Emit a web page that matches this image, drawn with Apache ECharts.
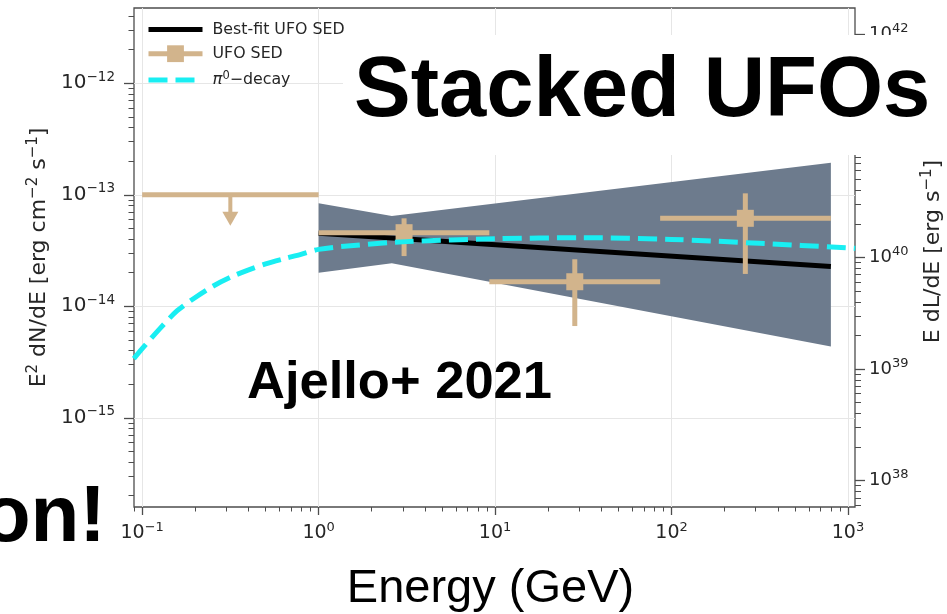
<!DOCTYPE html>
<html>
<head>
<meta charset="utf-8">
<script src="https://cdn.jsdelivr.net/npm/echarts@6/dist/echarts.min.js"></script>
<style>
  html, body { margin: 0; padding: 0; background: #ffffff; }
  #chart { width: 947px; height: 614px; }
</style>
</head>
<body>
<div id="chart"></div>
<script>
// ---- Stacked UFO spectral energy distribution (energy in GeV, flux in erg cm^-2 s^-1) ----

// Detected bins: centre, bin edges, flux and 1-sigma range
const ufoEnergy   = [3.05, 28.3, 262];
const ufoEnergyLo = [1.0, 9.28, 86.2];
const ufoEnergyHi = [9.28, 86.2, 800];
const ufoFlux     = [4.57e-14, 1.66e-14, 6.15e-14];
const ufoFluxLo   = [2.82e-14, 6.65e-15, 1.95e-14];
const ufoFluxHi   = [6.15e-14, 2.64e-14, 1.03e-13];

// Upper limit in the lowest bin
const ulEnergy   = [0.316];
const ulEnergyLo = [0.1];
const ulEnergyHi = [1.0];
const ulFlux     = [1.0e-13];

// Best-fit power law
const fitEnergy = [1, 800];
const fitFlux   = [4.52e-14, 2.27e-14];

// Uncertainty butterfly of the fit
const bandEnergy = [1, 2.6, 800];
const bandUpper  = [8.4e-14, 6.45e-14, 1.94e-13];
const bandLower  = [2.0e-14, 2.43e-14, 4.35e-15];

// Pion-decay model curve
const pionEnergy = [0.0897, 0.1, 0.126, 0.158, 0.2, 0.251, 0.316, 0.398, 0.501, 0.631, 0.794,
                    1.0, 1.58, 3.16, 10, 31.6, 100, 316, 1100];
const pionFlux   = [3.39e-15, 4.17e-15, 6.31e-15, 9.12e-15, 1.20e-14, 1.51e-14, 1.82e-14, 2.11e-14,
                    2.40e-14, 2.66e-14, 2.92e-14, 3.24e-14, 3.51e-14, 3.80e-14, 4.03e-14, 4.12e-14,
                    3.98e-14, 3.67e-14, 3.31e-14];

// Axis ranges and ticks
const xRange = [0.0899, 1096];
const yRange = [1.585e-16, 4.73e-12];
const lumPerFlux = 3.65e53;               // E dL/dE per unit E^2 dN/dE
const lumRange = [yRange[0] * lumPerFlux, yRange[1] * lumPerFlux];
const xMajorTicks   = [0.1, 1, 10, 100, 1000];
const yMajorTicks   = [1e-15, 1e-14, 1e-13, 1e-12];
const lumMajorTicks = [1e38, 1e39, 1e40, 1e41, 1e42];
const minorMultipliers = [2, 3, 4, 5, 6, 7, 8, 9];

function minorTicks(range) {
  const out = [];
  const k0 = Math.floor(Math.log10(range[0])), k1 = Math.ceil(Math.log10(range[1]));
  for (let k = k0; k <= k1; k++) {
    minorMultipliers.forEach(function (m) {
      const v = m * Math.pow(10, k);
      if (v >= range[0] && v <= range[1]) out.push(v);
    });
  }
  return out;
}

const TAN = '#d2b48c';
const FRAME = '#4d4d4d';
const TICKFONT = 'DejaVu Sans';

function powLabel(v) {
  const e = Math.round(Math.log10(v));
  const s = e < 0 ? '\u2212' + (-e) : String(e);
  return '{b|10}{s|' + s + '}';
}
function powRich(base, sup) {
  return {
    b: { fontSize: base, fontFamily: TICKFONT, color: '#262626', lineHeight: base + 6, verticalAlign: 'middle' },
    s: { fontSize: sup, fontFamily: TICKFONT, color: '#262626', lineHeight: sup, verticalAlign: 'top' }
  };
}
function nameRich() {
  return {
    n: { fontSize: 22, fontFamily: TICKFONT, color: '#262626', lineHeight: 27, verticalAlign: 'middle' },
    s: { fontSize: 15, fontFamily: TICKFONT, color: '#262626', lineHeight: 15, verticalAlign: 'top' }
  };
}

const chart = echarts.init(document.getElementById('chart'), null, { renderer: 'canvas' });

const baseLogAxis = {
  type: 'log',
  logBase: 10,
  axisLine: { show: false },
  splitLine: { show: false },
  minorTick: { show: false },
  minorSplitLine: { show: false }
};

const option = {
  animation: false,
  backgroundColor: '#ffffff',
  grid: {
    left: 134, top: 8, right: 92, bottom: 107,
    containLabel: false, outerBoundsMode: 'none',
    show: true, borderColor: FRAME, borderWidth: 1.3, backgroundColor: 'transparent'
  },
  legend: {
    left: 146, top: 21, orient: 'vertical', padding: 0,
    itemWidth: 54, itemHeight: 21, itemGap: 7.5,
    selectedMode: false,
    data: [
      { name: 'Best-fit UFO SED', lineStyle: { width: 5 }, itemStyle: { opacity: 0 } },
      { name: 'UFO SED', lineStyle: { width: 5, color: TAN, opacity: 1 } },
      { name: 'π0−decay', lineStyle: { width: 5 }, itemStyle: { opacity: 0 } }
    ],
    formatter: function (name) {
      if (name === 'π0−decay') return '{i|π}{p|0}{t|\u2212decay}';
      return '{t|' + name + '}';
    },
    textStyle: {
      padding: [0, 0, 0, 5],
      rich: {
        t: { fontSize: 15.8, fontFamily: TICKFONT, color: '#262626', lineHeight: 21 },
        i: { fontSize: 16.5, fontFamily: TICKFONT, fontStyle: 'italic', color: '#262626', lineHeight: 21 },
        p: { fontSize: 11.5, fontFamily: TICKFONT, color: '#262626', verticalAlign: 'top', lineHeight: 12 }
      }
    }
  },
  xAxis: [
    Object.assign({}, baseLogAxis, {
      min: xRange[0], max: xRange[1], position: 'bottom',
      name: 'Energy (GeV)', nameLocation: 'middle', nameGap: 59,
      nameTextStyle: { fontSize: 47, fontFamily: 'Liberation Sans', color: '#000000', padding: [0, 8, 0, 0] },
      axisTick: { show: true, length: 8, lineStyle: { color: FRAME, width: 1.3 }, customValues: xMajorTicks },
      axisLabel: { show: true, margin: 14, customValues: xMajorTicks, formatter: powLabel, rich: powRich(19, 13) },
      splitLine: { show: true, lineStyle: { color: '#e6e6e6', width: 1 } }
    }),
    Object.assign({}, baseLogAxis, {
      min: xRange[0], max: xRange[1], position: 'bottom',
      axisTick: { show: true, length: 4.5, lineStyle: { color: FRAME, width: 1 }, customValues: minorTicks(xRange) },
      axisLabel: { show: false }
    })
  ],
  yAxis: [
    Object.assign({}, baseLogAxis, {
      min: yRange[0], max: yRange[1], position: 'left',
      name: '{n|E}{s|2}{n| dN/dE [erg cm}{s|\u22122}{n| s}{s|\u22121}{n|]}',
      nameLocation: 'middle', nameGap: 79, nameRotate: 90,
      nameTextStyle: { rich: nameRich() },
      axisTick: { show: true, length: 10, lineStyle: { color: FRAME, width: 1.3 }, customValues: yMajorTicks },
      axisLabel: { show: true, margin: 19, customValues: yMajorTicks, formatter: powLabel, rich: powRich(20, 13.5) },
      splitLine: { show: true, lineStyle: { color: '#e6e6e6', width: 1 } }
    }),
    Object.assign({}, baseLogAxis, {
      min: lumRange[0], max: lumRange[1], position: 'right',
      name: '{n|E dL/dE [erg s}{s|\u22121}{n|]}',
      nameLocation: 'middle', nameGap: 65, nameRotate: 90,
      nameTextStyle: { rich: nameRich(), padding: [0, 0, 0, 12] },
      axisTick: { show: true, length: 10, lineStyle: { color: FRAME, width: 1.3 }, customValues: lumMajorTicks },
      axisLabel: { show: true, margin: 14, customValues: lumMajorTicks, formatter: powLabel, rich: powRich(18, 13) }
    }),
    Object.assign({}, baseLogAxis, {
      min: yRange[0], max: yRange[1], position: 'left',
      axisTick: { show: true, length: 5.5, lineStyle: { color: FRAME, width: 1 }, customValues: minorTicks(yRange) },
      axisLabel: { show: false }
    }),
    Object.assign({}, baseLogAxis, {
      min: lumRange[0], max: lumRange[1], position: 'right',
      axisTick: { show: true, length: 6, lineStyle: { color: FRAME, width: 1 }, customValues: minorTicks(lumRange) },
      axisLabel: { show: false }
    })
  ],
  series: [
    {
      // fit uncertainty butterfly
      type: 'custom', name: 'fit band', silent: true, z: 1, clip: true,
      data: [[bandEnergy[0], bandUpper[0]]],
      renderItem: function (params, api) {
        const up = bandEnergy.map(function (e, i) { return api.coord([e, bandUpper[i]]); });
        const lo = bandEnergy.map(function (e, i) { return api.coord([e, bandLower[i]]); }).reverse();
        return { type: 'polygon', shape: { points: up.concat(lo) }, style: { fill: '#6d7b8d' } };
      }
    },
    {
      type: 'line', name: 'Best-fit UFO SED', z: 2, silent: true,
      data: fitEnergy.map(function (e, i) { return [e, fitFlux[i]]; }),
      symbol: 'none', lineStyle: { color: '#000000', width: 5 }, itemStyle: { color: '#000000' }
    },
    {
      // error bars of the detected bins
      type: 'custom', name: 'UFO SED errors', z: 3, silent: true,
      encode: { x: 0, y: 1 },
      data: ufoEnergy.map(function (e, i) {
        return [e, ufoFlux[i], ufoEnergyLo[i], ufoEnergyHi[i], ufoFluxLo[i], ufoFluxHi[i]];
      }),
      renderItem: function (params, api) {
        const e = api.value(0), f = api.value(1);
        const h0 = api.coord([api.value(2), f]), h1 = api.coord([api.value(3), f]);
        const v0 = api.coord([e, api.value(4)]), v1 = api.coord([e, api.value(5)]);
        const st = { stroke: TAN, lineWidth: 5, lineCap: 'butt' };
        return {
          type: 'group',
          children: [
            { type: 'line', shape: { x1: h0[0], y1: h0[1], x2: h1[0], y2: h1[1] }, style: st },
            { type: 'line', shape: { x1: v0[0], y1: v0[1], x2: v1[0], y2: v1[1] }, style: st }
          ]
        };
      }
    },
    {
      type: 'line', name: 'UFO SED', z: 3, silent: true,
      data: ufoEnergy.map(function (e, i) { return [e, ufoFlux[i]]; }),
      symbol: 'rect', symbolSize: 17, showSymbol: true,
      lineStyle: { color: TAN, width: 5, opacity: 0 },
      itemStyle: { color: TAN }
    },
    {
      // upper limit in the lowest bin
      type: 'custom', name: 'UFO SED upper limit', z: 3, silent: true,
      encode: { x: 0, y: 1 },
      data: ulEnergy.map(function (e, i) { return [e, ulFlux[i], ulEnergyLo[i], ulEnergyHi[i]]; }),
      renderItem: function (params, api) {
        const c = api.coord([api.value(0), api.value(1)]);
        const h0 = api.coord([api.value(2), api.value(1)]), h1 = api.coord([api.value(3), api.value(1)]);
        const st = { stroke: TAN, lineWidth: 5, lineCap: 'butt' };
        return {
          type: 'group',
          children: [
            { type: 'line', shape: { x1: h0[0], y1: h0[1], x2: h1[0], y2: h1[1] }, style: st },
            { type: 'line', shape: { x1: c[0], y1: c[1], x2: c[0], y2: c[1] + 20 }, style: { stroke: TAN, lineWidth: 4 } },
            { type: 'polygon', shape: { points: [[c[0] - 8, c[1] + 17], [c[0] + 8, c[1] + 17], [c[0], c[1] + 31]] }, style: { fill: TAN } }
          ]
        };
      }
    },
    {
      type: 'line', name: 'π0−decay', z: 4, silent: true,
      data: pionEnergy.map(function (e, i) { return [e, pionFlux[i]]; }),
      symbol: 'none', smooth: 0.3,
      lineStyle: { color: '#19eef2', width: 5, type: [19, 8] },
      itemStyle: { color: '#19eef2' }
    }
  ],
  graphic: [
    { type: 'rect', z: 100, silent: true, shape: { x: 343, y: 35, width: 604, height: 120 }, style: { fill: '#ffffff' } },
    {
      type: 'text', z: 101, silent: true, x: 354, y: 93,
      style: { text: 'Stacked UFOs', fontSize: 85, fontWeight: 'bold', fontFamily: 'Liberation Sans', fill: '#000000',
               align: 'left', verticalAlign: 'middle', textAlign: 'left', textVerticalAlign: 'middle' }
    },
    {
      type: 'text', z: 101, silent: true, x: 247, y: 384,
      style: { text: 'Ajello+ 2021', fontSize: 52.5, fontWeight: 'bold', fontFamily: 'Liberation Sans', fill: '#000000',
               align: 'left', verticalAlign: 'middle', textAlign: 'left', textVerticalAlign: 'middle' }
    },
    {
      type: 'text', z: 101, silent: true, x: 106, y: 519,
      style: { text: 'on!', fontSize: 80, fontWeight: 'bold', fontFamily: 'Liberation Sans', fill: '#000000',
               align: 'right', verticalAlign: 'middle', textAlign: 'right', textVerticalAlign: 'middle' }
    }
  ]
};

chart.setOption(option);
</script>
</body>
</html>
